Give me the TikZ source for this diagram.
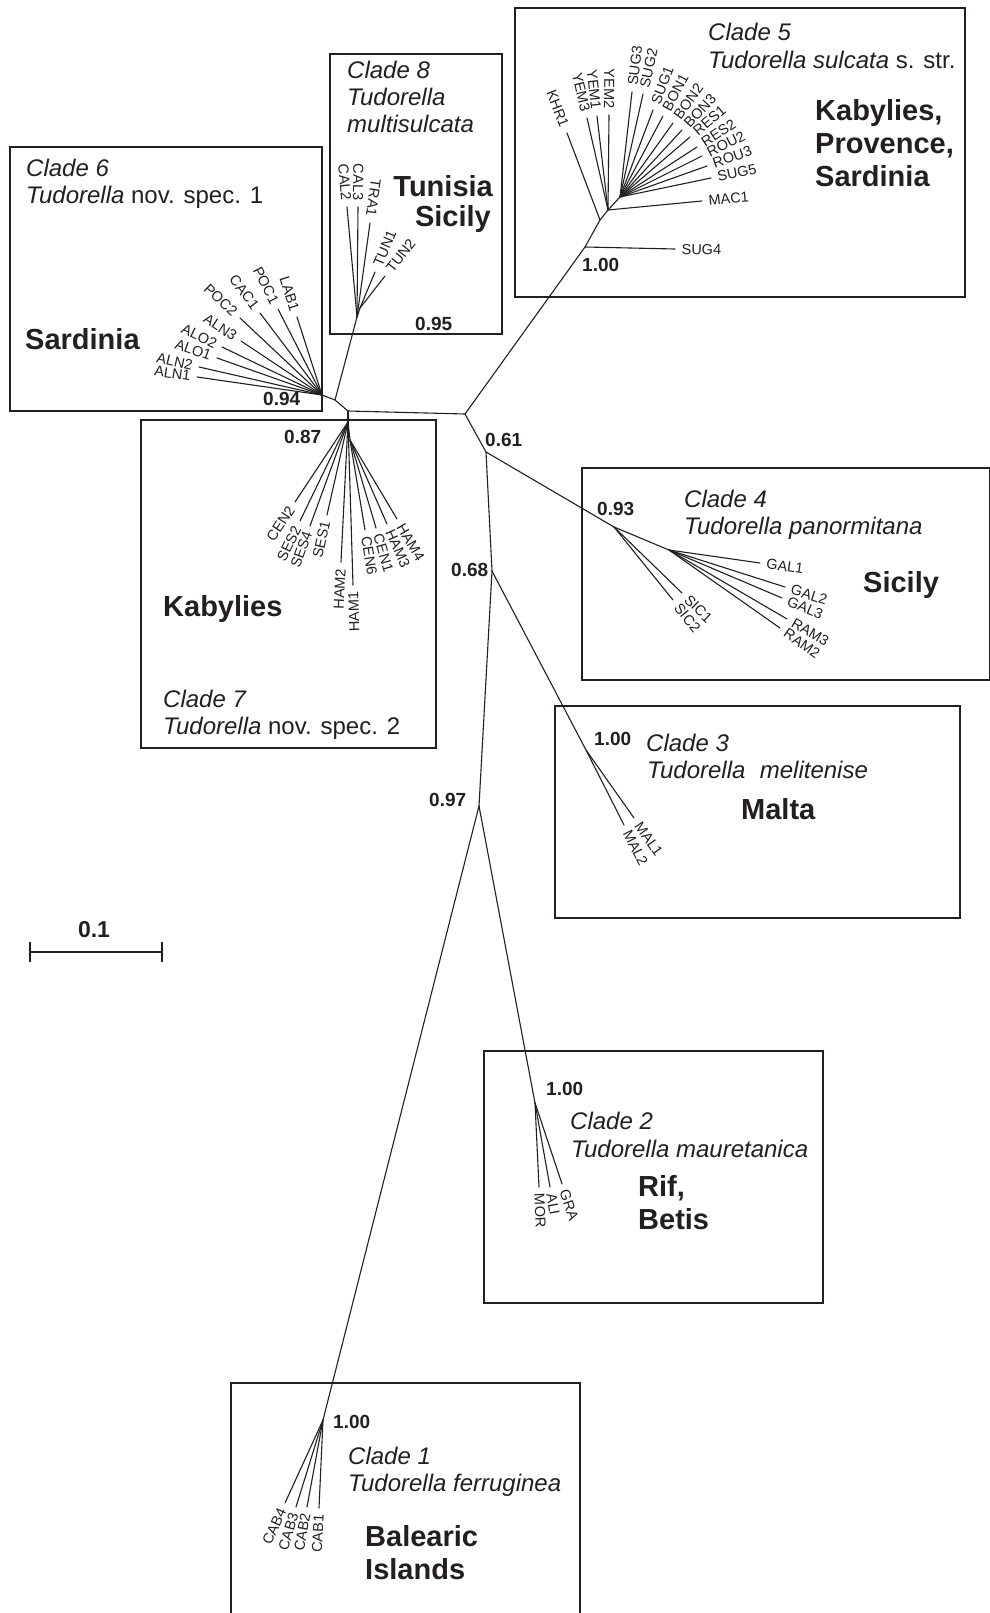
\documentclass[tikz,border=0pt]{standalone}
\usepackage{fontspec}
\setmainfont{Liberation Sans}
\usetikzlibrary{calc}
\definecolor{ink}{RGB}{35,31,32}

% angle of the branch from #1 to #2, in \lfang
\newdimen\lfax \newdimen\lfay \newdimen\lfbx \newdimen\lfby
\newcommand\branchangle[2]{%
  \pgfextractx{\lfax}{\pgfpointanchor{#1}{center}}%
  \pgfextracty{\lfay}{\pgfpointanchor{#1}{center}}%
  \pgfextractx{\lfbx}{\pgfpointanchor{#2}{center}}%
  \pgfextracty{\lfby}{\pgfpointanchor{#2}{center}}%
  \pgfmathsetmacro\lfang{atan2(\the\dimexpr\lfby-\lfay\relax,\the\dimexpr\lfbx-\lfax\relax)}%
}
% terminal branch, label reading outward from the tip
\newcommand\leafR[4]{%
  \coordinate (#2) at #3;
  \draw[branch] (#1) -- (#2);
  \branchangle{#1}{#2}%
  \node[leaflab, anchor=west, rotate=\lfang] (#2-lab) at ($(#2)!-6.5pt!(#1)$) {#4};
}
% terminal branch, label reading inward towards the tip
\newcommand\leafL[4]{%
  \coordinate (#2) at #3;
  \draw[branch] (#1) -- (#2);
  \branchangle{#1}{#2}%
  \pgfmathsetmacro\lfrot{\lfang+180}%
  \node[leaflab, anchor=east, rotate=\lfrot] (#2-lab) at ($(#2)!-6.5pt!(#1)$) {#4};
}

\tikzset{
  branch/.style={line width=1.1pt, draw=ink, line cap=round},
  cladebox/.style={line width=2pt, draw=ink},
  leaflab/.style={inner sep=0pt, text=ink, font=\fontsize{14.5}{16}\selectfont},
  support/.style={inner sep=0pt, anchor=base west, text=ink, font=\bfseries\fontsize{19}{22}\selectfont},
  cladetxt/.style={inner sep=0pt, anchor=base west, text=ink, font=\fontsize{24}{29}\selectfont},
  region/.style={inner sep=0pt, anchor=base west, text=ink, font=\bfseries\fontsize{29}{33}\selectfont},
  scaletxt/.style={inner sep=0pt, anchor=base, text=ink, font=\bfseries\fontsize{23}{26}\selectfont},
}

\begin{document}
\begin{tikzpicture}[x=1pt,y=-1pt]
\useasboundingbox (0,0) rectangle (989,1613);
\fill[white] (0,0) rectangle (989,1613);

% ---------- clade frames ----------
\draw[cladebox] (515,8) rectangle (965,297);      % clade 5
\draw[cladebox] (330,54) rectangle (502,334);     % clade 8
\draw[cladebox] (10,147) rectangle (322,411);     % clade 6
\draw[cladebox] (141,420) rectangle (436,748);    % clade 7
\draw[cladebox] (582,468) rectangle (990,680);    % clade 4
\draw[cladebox] (555,706) rectangle (960,918);    % clade 3
\draw[cladebox] (484,1051) rectangle (823,1303);  % clade 2
\draw[cladebox] (231,1383) rectangle (580,1625);  % clade 1

% ---------- backbone ----------
\coordinate (N6) at (322,395);
\coordinate (J68) at (335,400);
\coordinate (N8) at (357,317);
\coordinate (J7) at (348,411);
\coordinate (N7) at (348,422);
\coordinate (J5) at (465,414);
\coordinate (N5a) at (585,247);
\coordinate (N5b) at (600,220);
\coordinate (N5c) at (608,210);
\coordinate (N5d) at (620,197);
\coordinate (N61) at (486,452);
\coordinate (N4) at (614,527);
\coordinate (S4) at (669,550);
\coordinate (N68) at (492,571);
\coordinate (N3) at (586,750);
\coordinate (N97) at (479,806);
\coordinate (N2) at (535,1103);
\coordinate (N1) at (323,1420);
\coordinate (T8) at (360,308);
\coordinate (S7) at (350,440);

\draw[branch] (N6) -- (J68) -- (J7) -- (J5) -- (N61) -- (N68) -- (N97);
\draw[branch] (J68) -- (N8);
\draw[branch] (J7) -- (N7);
\draw[branch] (J5) -- (N5a) -- (N5b) -- (N5c) -- (N5d);
\draw[branch] (N61) -- (N4);
\draw[branch] (N4) -- (S4);
\draw[branch] (N68) -- (N3);
\draw[branch] (N97) -- (N2);
\draw[branch] (N97) -- (N1);
\draw[branch] (N8) -- (T8);
\draw[branch] (N7) -- (S7);

% ---------- clade 5 ----------
\leafR{N5a}{SUG4}{(675,249)}{SUG4}
\leafL{N5b}{KHR1}{(567,133)}{KHR1}
\leafL{N5c}{YEM3}{(587,118)}{YEM3}
\leafL{N5c}{YEM1}{(597,116)}{YEM1}
\leafL{N5c}{YEM2}{(609,115)}{YEM2}
\leafR{N5c}{MAC1}{(702,201)}{MAC1}
\leafR{N5d}{SUG3}{(632,92)}{SUG3}
\leafR{N5d}{SUG2}{(643,94)}{SUG2}
\leafR{N5d}{SUG1}{(653,110)}{SUG1}
\leafR{N5d}{BON1}{(663,116)}{BON1}
\leafR{N5d}{BON2}{(673,123)}{BON2}
\leafR{N5d}{BON3}{(682,130)}{BON3}
\leafR{N5d}{RES1}{(690,137)}{RES1}
\leafR{N5d}{RES2}{(697,147)}{RES2}
\leafR{N5d}{ROU2}{(702,156)}{ROU2}
\leafR{N5d}{ROU3}{(707,166)}{ROU3}
\leafR{N5d}{SUG5}{(711,178)}{SUG5}

\node[support] (b5) at (582,271) {1.00};
\node[cladetxt] (c5a) at (708,41) {\textit{Clade 5}};
\node[cladetxt] (c5b) at (708,69) {\textit{Tudorella sulcata} s. str.};
\node[region] (r5a) at (815,121) {Kabylies,};
\node[region] (r5b) at (815,154) {Provence,};
\node[region] (r5c) at (815,187) {Sardinia};

% ---------- clade 8 ----------
\leafL{N8}{CAL2}{(347,207)}{CAL2}
\leafL{N8}{CAL3}{(358,207)}{CAL3}
\leafL{N8}{TRA1}{(370,223)}{TRA1}
\leafR{T8}{TUN1}{(375,272)}{TUN1}
\leafR{T8}{TUN2}{(385,276)}{TUN2}

\node[support] (b8) at (415,330) {0.95};
\node[cladetxt] (c8a) at (347,79) {\textit{Clade 8}};
\node[cladetxt] (c8b) at (347,106) {\textit{Tudorella}};
\node[cladetxt] (c8c) at (347,133) {\textit{multisulcata}};
\node[region, anchor=base east] (r8a) at (493,197) {Tunisia};
\node[region, anchor=base east] (r8b) at (491,227) {Sicily};

% ---------- clade 6 ----------
\leafL{N6}{ALN1}{(197,377)}{ALN1}
\leafL{N6}{ALN2}{(199,367)}{ALN2}
\leafL{N6}{ALO1}{(217,358)}{ALO1}
\leafL{N6}{ALO2}{(222,347)}{ALO2}
\leafL{N6}{ALN3}{(241,341)}{ALN3}
\leafL{N6}{POC2}{(240,318)}{POC2}
\leafL{N6}{CAC1}{(260,313)}{CAC1}
\leafL{N6}{POC1}{(278,309)}{POC1}
\leafL{N6}{LAB1}{(297,317)}{LAB1}

\node[support] (b6) at (263,405) {0.94};
\node[cladetxt] (c6a) at (26,177) {\textit{Clade 6}};
\node[cladetxt] (c6b) at (26,204) {\textit{Tudorella} nov. spec. 1};
\node[region] (r6) at (25,349) {Sardinia};

% ---------- clade 7 ----------
\leafL{N7}{CEN2}{(295,502)}{CEN2}
\leafL{N7}{SES2}{(300,521)}{SES2}
\leafL{N7}{SES4}{(310,526)}{SES4}
\leafL{N7}{SES1}{(327,515)}{SES1}
\leafL{N7}{HAM2}{(341,562)}{HAM2}
\leafL{N7}{HAM1}{(353,585)}{HAM1}
\leafR{S7}{CEN6}{(365,530)}{CEN6}
\leafR{S7}{CEN1}{(376,528)}{CEN1}
\leafR{S7}{HAM3}{(387,524)}{HAM3}
\leafR{S7}{HAM4}{(397,519)}{HAM4}

\node[support] (b7) at (284,443) {0.87};
\node[region] (r7) at (163,616) {Kabylies};
\node[cladetxt] (c7a) at (163,707) {\textit{Clade 7}};
\node[cladetxt] (c7b) at (163,734) {\textit{Tudorella} nov. spec. 2};

% ---------- clade 4 ----------
\leafR{N4}{SIC1}{(682,593)}{SIC1}
\leafR{N4}{SIC2}{(673,600)}{SIC2}
\leafR{S4}{GAL1}{(760,563)}{GAL1}
\leafR{S4}{GAL2}{(785,587)}{GAL2}
\leafR{S4}{GAL3}{(782,598)}{GAL3}
\leafR{S4}{RAM3}{(787,619)}{RAM3}
\leafR{S4}{RAM2}{(780,628)}{RAM2}

\node[support] (b61) at (485,446) {0.61};
\node[support] (b4) at (597,515) {0.93};
\node[cladetxt] (c4a) at (684,507) {\textit{Clade 4}};
\node[cladetxt] (c4b) at (684,534) {\textit{Tudorella panormitana}};
\node[region] (r4) at (863,592) {Sicily};

% ---------- clade 3 ----------
\leafR{N3}{MAL1}{(634,818)}{MAL1}
\leafR{N3}{MAL2}{(624,825)}{MAL2}

\node[support] (b68) at (451,576) {0.68};
\node[support] (b3) at (594,745) {1.00};
\node[cladetxt] (c3a) at (646,751) {\textit{Clade 3}};
\node[cladetxt] (c3b) at (647,778) {\textit{Tudorella\hspace{0.6em}melitenise}};
\node[region] (r3) at (741,819) {Malta};
\node[support] (b97) at (429,806) {0.97};

% ---------- clade 2 ----------
\leafR{N2}{MOR}{(539,1187)}{MOR}
\leafR{N2}{ALI}{(550,1187)}{ALI}
\leafR{N2}{GRA}{(562,1184)}{GRA}

\node[support] (b2) at (546,1095) {1.00};
\node[cladetxt] (c2a) at (570,1129) {\textit{Clade 2}};
\node[cladetxt] (c2b) at (571,1157) {\textit{Tudorella mauretanica}};
\node[region] (r2a) at (638,1196) {Rif,};
\node[region] (r2b) at (638,1229) {Betis};

% ---------- clade 1 ----------
\leafL{N1}{CAB4}{(285,1503)}{CAB4}
\leafL{N1}{CAB3}{(296,1507)}{CAB3}
\leafL{N1}{CAB2}{(307,1507)}{CAB2}
\leafL{N1}{CAB1}{(319,1508)}{CAB1}

\node[support] (b1) at (333,1428) {1.00};
\node[cladetxt] (c1a) at (348,1464) {\textit{Clade 1}};
\node[cladetxt] (c1b) at (348,1491) {\textit{Tudorella ferruginea}};
\node[region] (r1a) at (365,1546) {Balearic};
\node[region] (r1b) at (365,1579) {Islands};

% ---------- scale bar ----------
\coordinate (sbL) at (30,952);
\coordinate (sbR) at (162,952);
\draw[line width=2pt, draw=ink] (sbL) -- (sbR);
\draw[line width=2pt, draw=ink] ($(sbL)+(0,-10)$) -- ($(sbL)+(0,10)$);
\draw[line width=2pt, draw=ink] ($(sbR)+(0,-10)$) -- ($(sbR)+(0,10)$);
\node[scaletxt] (sbt) at (94,937) {0.1};
\end{tikzpicture}
\end{document}
